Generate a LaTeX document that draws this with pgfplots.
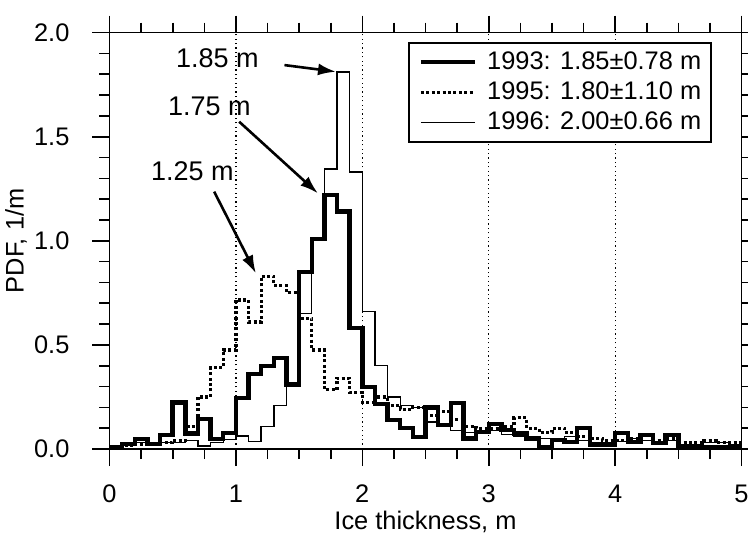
\documentclass[border=0pt]{standalone}
\usepackage{fontspec}
\setmainfont{Liberation Sans}
\usepackage{pgfplots}
\usepackage{pgfplotstable}
\pgfplotsset{compat=1.18}
\usetikzlibrary{arrows.meta}

% bin left edge, PDF for 1993, 1995, 1996 (bin width 0.1 m)
\pgfplotstableread{
x    a     b     c
0.0  0.010 0.010 0.008
0.1  0.025 0.015 0.020
0.2  0.047 0.020 0.030
0.3  0.024 0.025 0.020
0.4  0.067 0.030 0.030
0.5  0.223 0.040 0.030
0.6  0.075 0.107 0.040
0.7  0.143 0.250 0.015
0.8  0.047 0.390 0.030
0.9  0.078 0.476 0.045
1.0  0.244 0.716 0.062
1.1  0.359 0.610 0.035
1.2  0.400 0.830 0.107
1.3  0.436 0.785 0.210
1.4  0.310 0.750 0.310
1.5  0.850 0.628 0.652
1.6  1.010 0.476 1.010
1.7  1.220 0.284 1.345
1.8  1.140 0.340 1.810
1.9  0.580 0.270 1.330
2.0  0.297 0.225 0.660
2.1  0.215 0.250 0.400
2.2  0.138 0.210 0.250
2.3  0.100 0.190 0.210
2.4  0.057 0.200 0.200
2.5  0.200 0.160 0.130
2.6  0.114 0.180 0.110
2.7  0.220 0.140 0.090
2.8  0.050 0.110 0.080
2.9  0.083 0.100 0.080
3.0  0.120 0.100 0.090
3.1  0.090 0.110 0.070
3.2  0.075 0.150 0.060
3.3  0.050 0.100 0.050
3.4  0.010 0.080 0.050
3.5  0.043 0.100 0.040
3.6  0.035 0.080 0.060
3.7  0.100 0.060 0.040
3.8  0.020 0.050 0.030
3.9  0.020 0.040 0.030
4.0  0.078 0.040 0.035
4.1  0.035 0.050 0.050
4.2  0.067 0.070 0.040
4.3  0.030 0.040 0.030
4.4  0.067 0.050 0.040
4.5  0.010 0.030 0.020
4.6  0.010 0.030 0.020
4.7  0.010 0.040 0.030
4.8  0.010 0.030 0.030
4.9  0.010 0.030 0.020
5.0  0.010 0.030 0.020
}\pdfdata

\newcommand{\fnt}{\fontsize{12.7}{15}\selectfont}
\newcommand{\afnt}{\fontsize{13.5}{15}\selectfont}

\begin{document}
\begin{tikzpicture}[font=\fnt]
\begin{axis}[
  scale only axis,
  width=316pt, height=208.2pt,
  xmin=0, xmax=5, ymin=0, ymax=2,
  xtick={0,1,2,3,4,5}, ytick={0,0.5,1,1.5,2},
  minor x tick num=3, minor y tick num=4,
  tick align=outside,
  major tick length=8.5pt, minor tick length=5pt,
  axis line style={line width=0.8pt},
  every tick/.style={black, line width=0.8pt},
  xmajorgrids,
  major x grid style={black, line width=0.6pt, dash pattern=on 0.6pt off 1.6pt},
  /pgf/number format/assume math mode=true,
  tick label style={font=\fnt},
  xticklabel style={yshift=-6pt},
  yticklabel style={xshift=-8pt, /pgf/number format/.cd, fixed, fixed zerofill, precision=1},
  xlabel={Ice thickness, m},
  ylabel={PDF, 1/m},
  label style={font=\fnt},
  every axis x label/.style={at={(axis description cs:0.5,-0.176)}, anchor=center},
  every axis y label/.style={at={(axis description cs:-0.148,0.5)}, rotate=90, anchor=center},
  legend cell align=left,
  legend style={at={(0.4723,0.9775)}, anchor=north west, draw=black,
    line width=0.8pt, fill=white, font=\fnt,
    inner xsep=5pt, inner ysep=4pt, row sep=3.5pt,
    nodes={inner sep=0pt, text height=9.5pt, text depth=2pt}},
  legend image code/.code={\draw[#1] (0pt,0pt) -- (27pt,0pt);},
]
\addplot[const plot, black, line width=2.2pt] table[x=x, y=a] {\pdfdata};
\addlegendentry{\hspace{5pt}1993: 1.85±0.78 m\hspace{18pt}}
\addplot[const plot, black, line width=1.6pt, dash pattern=on 1.5pt off 1.2pt] table[x=x, y=b] {\pdfdata};
\addlegendentry{\hspace{5pt}1995: 1.80±1.10 m\hspace{18pt}}
\addplot[const plot, black, line width=0.7pt] table[x=x, y=c] {\pdfdata};
\addlegendentry{\hspace{5pt}1996: 2.00±0.66 m\hspace{18pt}}

\node[font=\afnt] at (axis cs:0.854,1.878) {1.85 m};
\node[font=\afnt] at (axis cs:0.79,1.644) {1.75 m};
\node[font=\afnt] at (axis cs:0.655,1.332) {1.25 m};
\draw[line width=1.3pt, -{Latex[length=9pt,width=6pt]}] (axis cs:1.384,1.844) -- (axis cs:1.792,1.812);
\draw[line width=1.3pt, -{Latex[length=9pt,width=6pt]}] (axis cs:1.026,1.572) -- (axis cs:1.649,1.228);
\draw[line width=1.3pt, -{Latex[length=9pt,width=6pt]}] (axis cs:0.828,1.236) -- (axis cs:1.158,0.844);
\end{axis}
\pgfresetboundingbox
\path[use as bounding box] (-54.75pt,-43.5pt) rectangle (319.25pt,224.5pt);
\end{tikzpicture}
\end{document}
